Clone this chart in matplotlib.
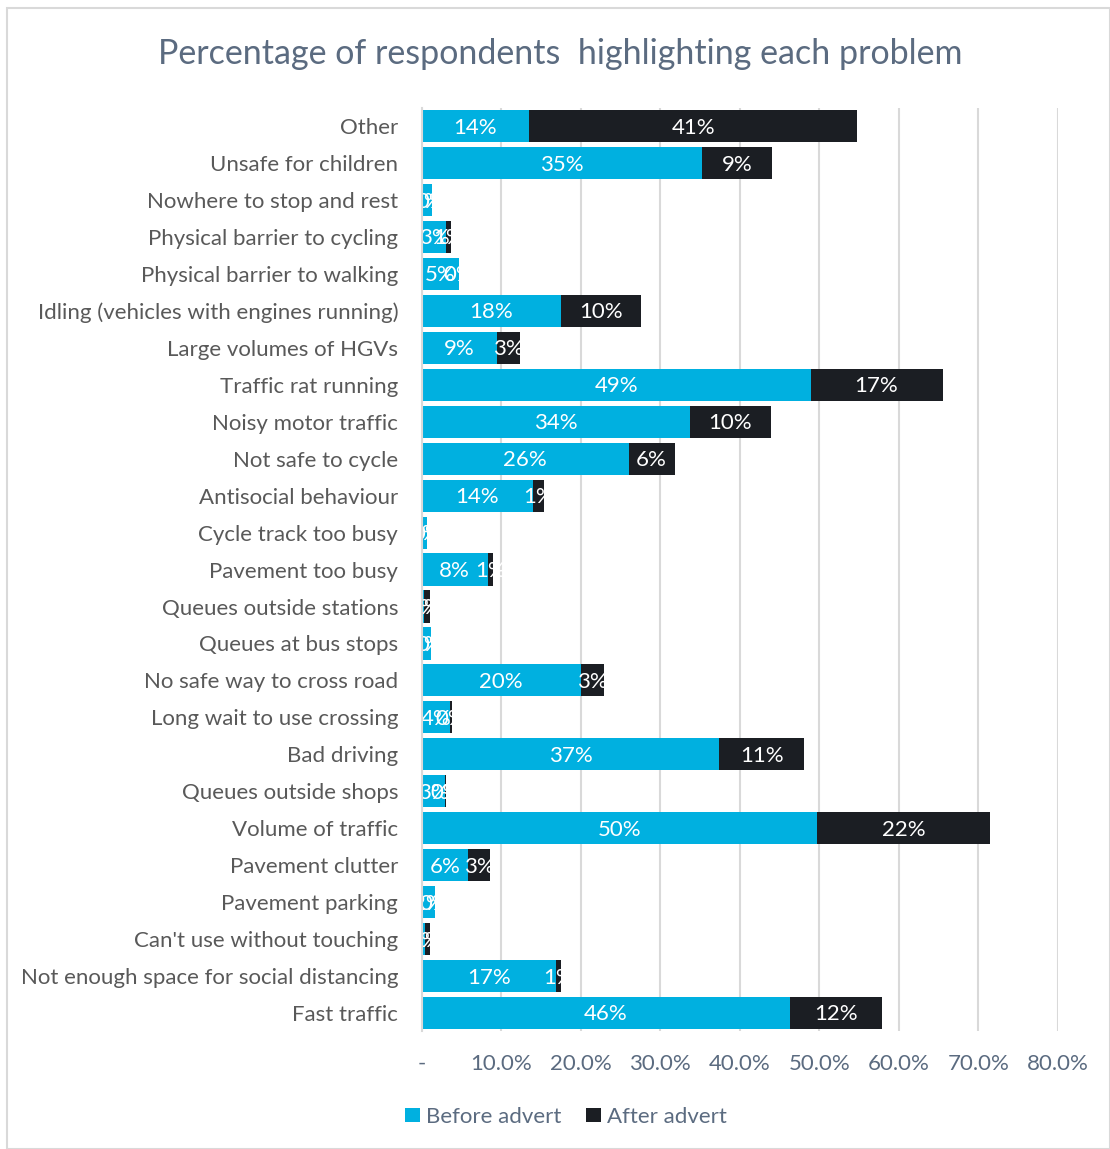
import matplotlib
matplotlib.use("Agg")
import matplotlib.pyplot as plt
from matplotlib.patches import Rectangle
import numpy as np

categories = [
    "Other", "Unsafe for children", "Nowhere to stop and rest",
    "Physical barrier to cycling", "Physical barrier to walking",
    "Idling (vehicles with engines running)", "Large volumes of HGVs",
    "Traffic rat running", "Noisy motor traffic", "Not safe to cycle",
    "Antisocial behaviour", "Cycle track too busy", "Pavement too busy",
    "Queues outside stations", "Queues at bus stops", "No safe way to cross road",
    "Long wait to use crossing", "Bad driving", "Queues outside shops",
    "Volume of traffic", "Pavement clutter", "Pavement parking",
    "Can't use without touching", "Not enough space for social distancing",
    "Fast traffic",
]
before = [13.5, 35.3, 1.3, 3.1, 4.7, 17.5, 9.4, 48.9, 33.7, 26.0,
          14.0, 0.7, 8.3, 0.3, 1.2, 20.0, 3.6, 37.4, 2.9, 49.7,
          5.8, 1.6, 0.4, 16.9, 46.3]
after = [41.3, 8.7, 0.0, 0.6, 0.0, 10.1, 2.9, 16.6, 10.2, 5.8,
         1.4, 0.0, 0.6, 0.7, 0.0, 2.9, 0.2, 10.7, 0.2, 21.8,
         2.8, 0.0, 0.6, 0.6, 11.6]
series_names = ["Before advert", "After advert"]
xticks = [0, 10, 20, 30, 40, 50, 60, 70, 80]
xticklabels = ["-", "10.0%", "20.0%", "30.0%", "40.0%", "50.0%", "60.0%", "70.0%", "80.0%"]
title = "Percentage of respondents  highlighting each problem"

BLUE = "#00B0E0"
DARK = "#1B1E23"
TXT = "#595959"
TITLE_C = "#5B6B80"
FS = 16

plt.rcParams["font.family"] = ["Lato", "DejaVu Sans"]

fig = plt.figure(figsize=(11.10, 11.49), dpi=100)
ax = fig.add_axes([0.380, 0.1023, 0.573, 0.804])

y = np.arange(len(categories))
b = np.array(before)
a = np.array(after)
h = 0.87
ax.barh(y, b, height=h, color=BLUE, label=series_names[0], zorder=3)
ax.barh(y, a, left=b, height=h, color=DARK, label=series_names[1], zorder=3)

def lab(v):
    return f"{int(v + 0.5)}%"

for i in range(len(categories)):
    ax.text(b[i] / 2, y[i] + 0.04, lab(b[i]), ha="center", va="center",
            color="white", fontsize=FS, zorder=4)
    ax.text(b[i] + a[i] / 2, y[i] + 0.04, lab(a[i]), ha="center", va="center",
            color="white", fontsize=FS, zorder=4)

ax.set_xlim(0, 80)
ax.set_ylim(len(categories) - 0.5, -0.5)
ax.set_yticks(y)
ax.set_yticklabels(categories, fontsize=FS, color=TXT)
ax.set_xticks(xticks)
ax.set_xticklabels(xticklabels, fontsize=FS, color=TITLE_C)
ax.tick_params(axis="both", length=0)
ax.tick_params(axis="x", pad=16)
ax.tick_params(axis="y", pad=17)
ax.grid(axis="x", color="#D9D9D9", linewidth=1.5, zorder=0)
for s in ["top", "right", "bottom"]:
    ax.spines[s].set_visible(False)
ax.spines["left"].set_color("#D9D9D9")
ax.spines["left"].set_linewidth(1.5)
ax.spines["left"].set_zorder(5)

fig.text(0.505, 0.953, title, ha="center", va="center", fontsize=24.5, color=TITLE_C)

fig.legend(loc="center", bbox_to_anchor=(0.510, 0.028), ncol=2, frameon=False,
           fontsize=FS, handlelength=0.65, handleheight=0.65, handletextpad=0.3,
           columnspacing=1.1, labelcolor=TITLE_C)

fig.patches.append(Rectangle((0.006, 0.0), 0.994, 0.993, transform=fig.transFigure,
                             fill=False, edgecolor="#D9D9D9", linewidth=1.5))

fig.savefig("out.png", dpi=100)
